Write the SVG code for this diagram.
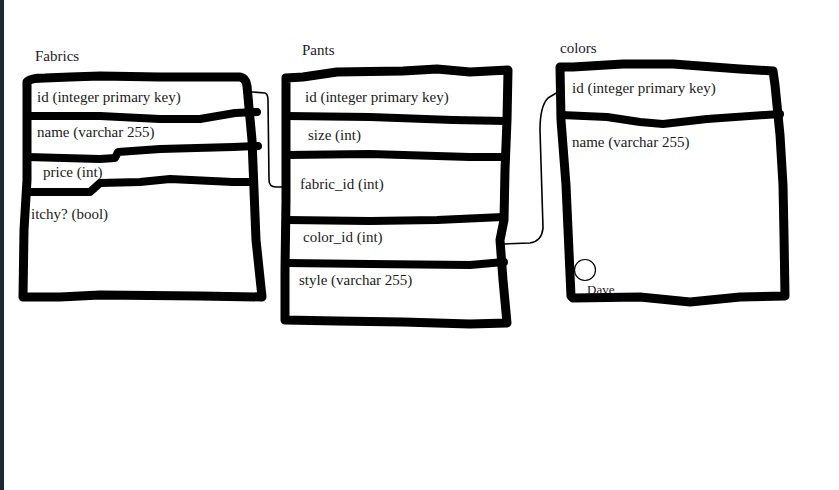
<svg xmlns="http://www.w3.org/2000/svg" width="839" height="490" viewBox="0 0 839 490">
<style>
.bg{fill:#ffffff}
.frame{fill:none;stroke:#000;stroke-width:9;stroke-linejoin:round;stroke-linecap:round}
.div{fill:none;stroke:#000;stroke-width:8;stroke-linejoin:round;stroke-linecap:round}
.t{font-family:"Liberation Serif","Times New Roman",serif;font-size:15px;fill:#1a1a1a}
.title{font-family:"Liberation Serif","Times New Roman",serif;font-size:15px;fill:#1a1a1a}
.small{font-family:"Liberation Serif","Times New Roman",serif;font-size:13px;fill:#1a1a1a}
.conn{fill:none;stroke:#000;stroke-width:1.6;stroke-linejoin:round;stroke-linecap:round}
</style>
<rect class="bg" x="0" y="0" width="839" height="490"/>
<rect x="0" y="0" width="4" height="490" fill="#1d2935"/>

<g id="connectors">
<path class="conn" d="M252,92 L265,93 Q268,94 268,100 L269,180 Q269,187 276,187 L286,187"/>
<path class="conn" d="M503,244 L530,243 Q542,241 543,228 L540,130 Q540,106 548,98 L558,92"/>
</g>

<g id="fabrics">
<text class="title" x="35" y="61">Fabrics</text>
<text class="t" x="37" y="102">id (integer primary key)</text>
<text class="t" x="37" y="137">name (varchar 255)</text>
<text class="t" x="43" y="177">price (int)</text>
<text class="t" x="31" y="219">itchy? (bool)</text>
<path class="frame" d="M27,82 Q30,78 45,78 L70,77 L100,76 L160,77 L240,77 Q246,78 247,86 L252,140 L256,240 L262,297 L200,296 L100,295 L60,297 L23,297 L24,230 L27,180 L27,82 Z"/>
<path class="div" d="M27,116 L100,116 L160,119 L200,119 L235,113 L257,112"/>
<path class="div" d="M27,157 L100,159 L115,158 L118,152 L160,149 L233,147 L258,146"/>
<path class="div" d="M27,192 L90,192 L100,183 L140,182 L170,179 L233,182 L250,182"/>
</g>

<g id="pants">
<text class="title" x="302" y="55">Pants</text>
<text class="t" x="305" y="102">id (integer primary key)</text>
<text class="t" x="308" y="140">size (int)</text>
<text class="t" x="300" y="189">fabric_id (int)</text>
<text class="t" x="303" y="242">color_id (int)</text>
<text class="t" x="299" y="285">style (varchar 255)</text>
<path class="frame" d="M286,78 L303,77 L337,72 L403,71 L437,69 L470,72 L508,70 L507,120 L505,170 L504,220 L500,240 L503,280 L507,323 L470,324 L403,322 L337,321 L285,320 L285,270 L286,200 L286,78 Z"/>
<path class="div" d="M286,116 L370,117 L453,120 L507,121"/>
<path class="div" d="M286,155 L370,154 L470,157 L505,157"/>
<path class="div" d="M286,220 L370,221 L437,220 L503,217"/>
<path class="div" d="M286,263 L370,264 L470,265 L504,262"/>
</g>

<g id="colors">
<text class="title" x="560" y="53">colors</text>
<text class="t" x="572" y="93">id (integer primary key)</text>
<text class="t" x="572" y="147">name (varchar 255)</text>
<circle cx="585" cy="270" r="10.5" fill="none" stroke="#000" stroke-width="1.2"/>
<path class="frame" d="M560,67 L573,67 L623,64 L673,64 L740,69 L773,71 L775,85 L780,135 L783,185 L784,235 L785,296 L740,297 L690,302 L640,297 L573,298 L571,296 L566,185 L561,120 L560,67 Z"/>
<path class="div" d="M561,115 L607,117 L640,122 L663,124 L707,119 L780,114"/>
<text class="small" x="587" y="294">Dave</text>
</g>
</svg>
